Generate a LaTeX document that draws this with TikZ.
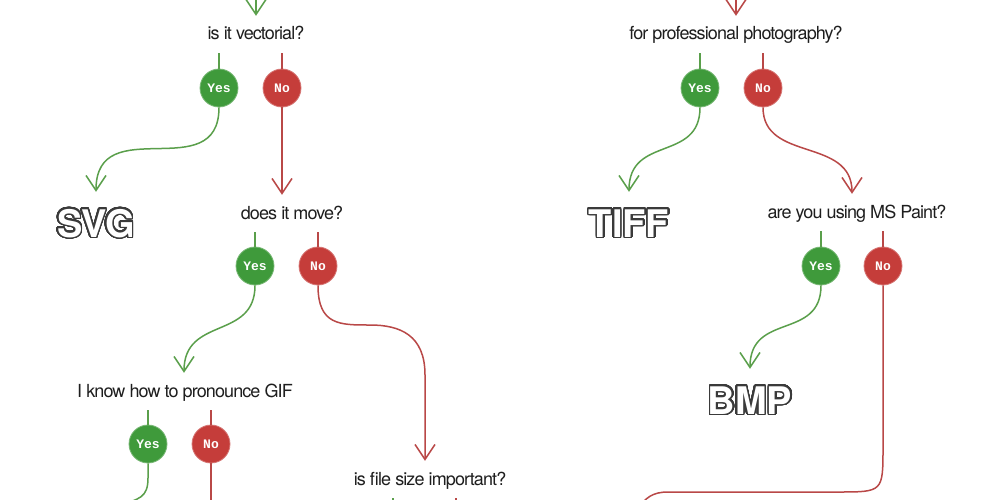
\documentclass[tikz,border=0pt]{standalone}
\usepackage{fontspec}
\setmainfont{TeX Gyre Heros}
\newfontfamily\qfont[LetterSpace=-5]{TeX Gyre Heros}
\newfontfamily\ynfont{Liberation Mono}
\newfontfamily\bigfont{TeX Gyre Heros}
\usepackage{contour}
\contourlength{1.5pt}
\contournumber{48}
\usetikzlibrary{arrows.meta}
\definecolor{gcirc}{HTML}{3F9A3B}
\definecolor{rcirc}{HTML}{C53D3A}
\definecolor{gline}{HTML}{5A9F4B}
\definecolor{rline}{HTML}{B94847}
\definecolor{outl}{HTML}{3A3A3A}
\definecolor{qtext}{HTML}{1E1E1E}
\newcommand{\outlined}[1]{\contour{outl}{#1}}
\tikzset{
  question/.style={font=\qfont\fontsize{18}{20}\selectfont, text=qtext, text height=13pt, text depth=0pt, inner xsep=0pt, inner ysep=13pt, anchor=base},
  yesc/.style={circle, fill=gcirc, draw=gcirc!70!white, line width=0.8pt, minimum size=38pt, inner sep=0pt, text=white, font=\ynfont\bfseries\fontsize{13}{13}\selectfont},
  noc/.style={circle, fill=rcirc, draw=rcirc!70!white, line width=0.8pt, minimum size=38pt, inner sep=0pt, text=white, font=\ynfont\bfseries\fontsize{13}{13}\selectfont},
  answer/.style={font=\bigfont\bfseries\fontsize{38}{40}\selectfont, text=white, text height=27pt, text depth=0pt, inner ysep=20pt, inner xsep=0pt, anchor=base},
  gconn/.style={draw=gline, line width=1.5pt},
  rconn/.style={draw=rline, line width=1.5pt},
  arrowed/.style={-{Straight Barb[length=15pt,width=20pt]}, shorten >=-2pt},
}
\begin{document}
\begin{tikzpicture}[x=1pt,y=-1pt]
\useasboundingbox (0,0) rectangle (1000,500);
\fill[white] (0,0) rectangle (1000,500);
\clip (0,0) rectangle (1000,500);

% questions
\node[question] (q1) at (256,40) {is it vectorial?};
\node[question] (q2) at (736,40) {for professional photography?};
\node[question] (q3) at (292,219) {does it move?};
\node[question] (q4) at (857,218) {are you using MS Paint?};
\node[question] (q5) at (185,397) {I know how to pronounce GIF};
\node[question] (q6) at (430,485) {is file size important?};

% answers
\node[answer] (svg) at (96,237) {\outlined{SVG}};
\node[answer] (tiff) at (629,237) {\outlined{TIFF}};
\node[answer] (bmp) at (750,414) {\outlined{BMP}};

% yes / no circles
\node[yesc] (y1) at (219,88) {Yes};
\node[noc]  (n1) at (282,88) {No};
\node[yesc] (y2) at (700,88) {Yes};
\node[noc]  (n2) at (763,88) {No};
\node[yesc] (y3) at (255,266) {Yes};
\node[noc]  (n3) at (318,266) {No};
\node[yesc] (y4) at (821,266) {Yes};
\node[noc]  (n4) at (883,266) {No};
\node[yesc] (y5) at (148,444) {Yes};
\node[noc]  (n5) at (211,444) {No};
\coordinate (y6) at (393,532);
\coordinate (n6) at (456,532);

% off-picture ends
\coordinate (top1) at (256,-10);
\coordinate (top2) at (736,-10);
\coordinate (c6a) at (370,325);
\coordinate (c6b) at (425,375);
\coordinate (c8a) at (883,447);
\coordinate (c8b) at (838,492);
\coordinate (c8c) at (668,492);
\coordinate (c8d) at (638,508);
\coordinate (c9a) at (148,478);
\coordinate (c9b) at (116,505);
\coordinate (n5e) at (211,510);

% incoming arrows from above
\draw[gconn,arrowed] (top1) -- (q1.north);
\draw[rconn,arrowed] (top2) -- (q2.north);

% question -> circle stems
\foreach \c/\q in {y1/q1,y2/q2,y3/q3,y4/q4,y5/q5,y6/q6}
  \draw[gconn] (\c) -- (\c |- \q.south);
\foreach \c/\q in {n1/q1,n2/q2,n3/q3,n4/q4,n5/q5,n6/q6}
  \draw[rconn] (\c) -- (\c |- \q.south);

% answers / branches
\draw[gconn,arrowed] (y1.south) .. controls +(0,80) and +(0,-80) .. (svg.north);
\draw[rconn,arrowed] (n1.south) -- (n1 |- q3.north);
\draw[gconn,arrowed] (y2.south) .. controls +(0,55) and +(0,-55) .. (tiff.north);
\draw[rconn,arrowed] (n2.south) .. controls +(0,55) and +(0,-55) .. ([xshift=-5pt]q4.north);
\draw[gconn,arrowed] (y3.south) .. controls +(0,55) and +(0,-55) .. ([xshift=-1pt]q5.north);
\draw[rconn,arrowed] (n3.south) .. controls +(0,40) and +(-30,0) .. (c6a)
   .. controls +(30,0) and +(0,-40) .. (c6b) -- ([xshift=-5pt]q6.north);
\draw[gconn,arrowed] (y4.south) .. controls +(0,55) and +(0,-55) .. (bmp.north);
\draw[rconn] (n4.south) -- (c8a) .. controls (883,492) .. (c8b) -- (c8c)
   .. controls (652,492) and (646,498) .. (c8d);
\draw[gconn] (y5.south) -- (c9a) .. controls (148,497) and (140,500) .. (c9b);
\draw[rconn] (n5.south) -- (n5e);
\end{tikzpicture}
\end{document}
